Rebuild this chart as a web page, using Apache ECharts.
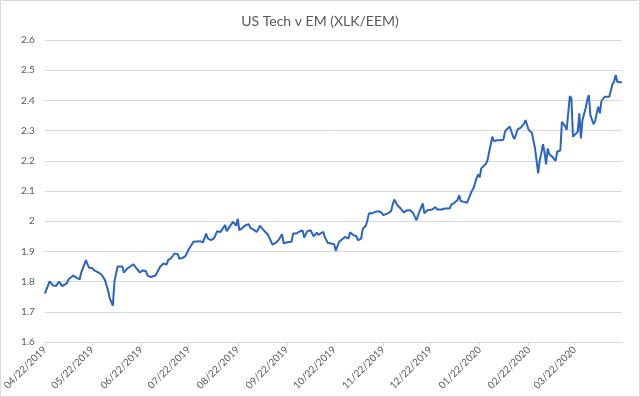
<!DOCTYPE html>
<html>
<head>
<meta charset="utf-8">
<script src="https://cdn.jsdelivr.net/npm/echarts@6/dist/echarts.min.js"></script>
<style>html,body{margin:0;padding:0;background:#fff}#c{width:640px;height:397px}</style>
</head>
<body>
<div id="c"></div>
<script>
var dates = [
'2019-04-22','2019-04-25','2019-04-26','2019-04-27','2019-04-29','2019-04-30','2019-05-01','2019-05-03','2019-05-06','2019-05-07',
'2019-05-08','2019-05-10','2019-05-12','2019-05-14','2019-05-15','2019-05-18','2019-05-19','2019-05-20','2019-05-22','2019-05-23',
'2019-05-26','2019-05-28','2019-05-30','2019-05-31','2019-06-01','2019-06-02','2019-06-04','2019-06-05','2019-06-07','2019-06-10',
'2019-06-11','2019-06-13','2019-06-15','2019-06-17','2019-06-18','2019-06-19','2019-06-20','2019-06-21','2019-06-23','2019-06-25',
'2019-06-26','2019-06-28','2019-07-01','2019-07-02','2019-07-04','2019-07-06','2019-07-08','2019-07-09','2019-07-11','2019-07-13',
'2019-07-15','2019-07-16','2019-07-18','2019-07-20','2019-07-22','2019-07-25','2019-07-29','2019-07-31','2019-08-02','2019-08-03',
'2019-08-05','2019-08-07','2019-08-09','2019-08-11','2019-08-12','2019-08-14','2019-08-15','2019-08-17','2019-08-19','2019-08-21',
'2019-08-22','2019-08-23','2019-08-25','2019-08-27','2019-08-28','2019-08-29','2019-08-30','2019-09-01','2019-09-03','2019-09-04',
'2019-09-05','2019-09-07','2019-09-10','2019-09-11','2019-09-12','2019-09-13','2019-09-15','2019-09-17','2019-09-19','2019-09-20',
'2019-09-23','2019-09-25','2019-09-26','2019-09-28','2019-09-30','2019-10-02','2019-10-03','2019-10-04','2019-10-05','2019-10-07',
'2019-10-09','2019-10-11','2019-10-12','2019-10-15','2019-10-16','2019-10-18','2019-10-20','2019-10-22','2019-10-23','2019-10-25',
'2019-10-27','2019-10-29','2019-10-31','2019-11-01','2019-11-03','2019-11-05','2019-11-06','2019-11-08','2019-11-09','2019-11-11',
'2019-11-12','2019-11-13','2019-11-15','2019-11-17','2019-11-19','2019-11-21','2019-11-22','2019-11-25','2019-11-27','2019-11-28',
'2019-11-29','2019-12-01','2019-12-03','2019-12-05','2019-12-07','2019-12-09','2019-12-11','2019-12-13','2019-12-15','2019-12-17',
'2019-12-18','2019-12-20','2019-12-23','2019-12-25','2019-12-26','2019-12-29','2019-12-31','2020-01-03','2020-01-04','2020-01-06',
'2020-01-08','2020-01-09','2020-01-10','2020-01-12','2020-01-14','2020-01-17','2020-01-18','2020-01-19','2020-01-20','2020-01-21',
'2020-01-22','2020-01-23','2020-01-26','2020-01-27','2020-01-28','2020-01-29','2020-01-30','2020-01-31','2020-02-02','2020-02-04',
'2020-02-06','2020-02-07','2020-02-08','2020-02-10','2020-02-11','2020-02-12','2020-02-13','2020-02-15','2020-02-17','2020-02-18',
'2020-02-19','2020-02-20','2020-02-22','2020-02-23','2020-02-24','2020-02-26','2020-02-27','2020-02-28','2020-02-29','2020-03-01',
'2020-03-02','2020-03-03','2020-03-04','2020-03-05','2020-03-06','2020-03-08','2020-03-09','2020-03-10','2020-03-11','2020-03-13',
'2020-03-14','2020-03-16','2020-03-17','2020-03-18','2020-03-19','2020-03-20','2020-03-21','2020-03-22','2020-03-24','2020-03-25',
'2020-03-26','2020-03-27','2020-03-29','2020-03-30','2020-03-31','2020-04-01','2020-04-03','2020-04-04','2020-04-05','2020-04-06',
'2020-04-07','2020-04-08','2020-04-10','2020-04-13','2020-04-14','2020-04-15','2020-04-16','2020-04-17','2020-04-18','2020-04-20',
'2020-04-21'
];
var ratio = [
1.760,1.801,1.803,1.788,1.785,1.787,1.800,1.785,1.795,1.808,
1.802,1.820,1.813,1.807,1.830,1.871,1.857,1.846,1.845,1.838,
1.830,1.822,1.805,1.800,1.770,1.745,1.720,1.800,1.850,1.850,
1.830,1.843,1.850,1.857,1.860,1.844,1.839,1.830,1.837,1.834,
1.820,1.815,1.820,1.830,1.850,1.860,1.856,1.872,1.878,1.893,
1.891,1.876,1.878,1.885,1.907,1.932,1.934,1.930,1.959,1.943,
1.937,1.943,1.967,1.964,1.964,1.987,1.967,1.983,1.998,1.985,
2.008,1.970,1.978,1.987,1.981,1.990,1.978,1.972,1.964,1.961,
1.985,1.972,1.956,1.945,1.945,1.922,1.928,1.939,1.957,1.927,
1.931,1.932,1.959,1.959,1.966,1.969,1.946,1.945,1.967,1.970,
1.950,1.962,1.955,1.965,1.948,1.928,1.926,1.924,1.902,1.931,
1.940,1.948,1.942,1.963,1.954,1.950,1.937,1.942,1.974,1.985,
2.003,2.026,2.026,2.031,2.033,2.028,2.020,2.026,2.034,2.055,
2.072,2.053,2.042,2.029,2.036,2.036,2.026,2.003,2.033,2.059,
2.026,2.036,2.039,2.047,2.039,2.039,2.042,2.042,2.055,2.061,
2.070,2.086,2.067,2.064,2.061,2.100,2.108,2.125,2.142,2.155,
2.145,2.175,2.190,2.203,2.230,2.225,2.280,2.265,2.268,2.268,
2.270,2.296,2.304,2.313,2.318,2.282,2.272,2.304,2.310,2.313,
2.322,2.335,2.302,2.298,2.293,2.241,2.236,2.158,2.202,2.225,
2.255,2.228,2.188,2.241,2.222,2.213,2.211,2.200,2.230,2.235,
2.329,2.315,2.302,2.298,2.414,2.407,2.280,2.285,2.296,2.357,
2.274,2.335,2.374,2.401,2.418,2.352,2.321,2.332,2.357,2.379,
2.357,2.398,2.412,2.412,2.418,2.454,2.462,2.484,2.462,2.460,
2.460
];
var tickDates = ['2019-04-22','2019-05-22','2019-06-22','2019-07-22','2019-08-22','2019-09-22','2019-10-22','2019-11-22','2019-12-22','2020-01-22','2020-02-22','2020-03-22'];
var axisStart = '2019-04-22';
var axisEnd = '2020-04-21';

function ts(s) { var p = s.split('-'); return Date.UTC(+p[0], +p[1] - 1, +p[2]); }
function fmt(v) {
  var d = new Date(v);
  var mm = ('0' + (d.getUTCMonth() + 1)).slice(-2), dd = ('0' + d.getUTCDate()).slice(-2);
  return mm + '/' + dd + '/' + d.getUTCFullYear();
}
var seriesData = dates.map(function (d, i) { return [ts(d), ratio[i]]; });
var tickVals = tickDates.map(ts);

var chart = echarts.init(document.getElementById('c'), null, { renderer: 'canvas' });
chart.setOption({
  animation: false,
  backgroundColor: '#ffffff',
  textStyle: { fontFamily: 'Lato' },
  title: {
    text: 'US Tech v EM (XLK/EEM)',
    left: 'center', top: 9,
    textStyle: { fontFamily: 'Lato', fontSize: 14, fontWeight: 'normal', color: '#595959' }
  },
  graphic: [{
    type: 'rect', silent: true,
    shape: { x: 0.5, y: 0.5, width: 639, height: 396 },
    style: { fill: 'none', stroke: '#d9d9d9', lineWidth: 1 }
  }],
  grid: { left: 44, right: 18, top: 40, bottom: 55 },
  xAxis: {
    type: 'value',
    min: ts(axisStart), max: ts(axisEnd),
    axisLine: { lineStyle: { color: '#d9d9d9', width: 1 } },
    axisTick: { show: true, customValues: tickVals, length: 4, lineStyle: { color: '#d9d9d9' } },
    axisLabel: {
      customValues: tickVals, rotate: 45, fontSize: 10, color: '#595959', fontFamily: 'Lato', margin: 6,
      formatter: function (v) { return fmt(v); }
    },
    splitLine: { show: false }
  },
  yAxis: {
    type: 'value', min: 1.6, max: 2.6, interval: 0.1,
    axisLine: { show: false }, axisTick: { show: false },
    axisLabel: { fontSize: 10, color: '#595959', fontFamily: 'Lato', margin: 10,
      formatter: function (v) { return String(Math.round(v * 10) / 10); } },
    splitLine: { lineStyle: { color: '#d9d9d9', width: 1 } }
  },
  series: [{
    type: 'line', data: seriesData, showSymbol: false,
    lineStyle: { color: '#2a64c4', width: 2 },
    itemStyle: { color: '#2a64c4' }
  }]
});
</script>
</body>
</html>
